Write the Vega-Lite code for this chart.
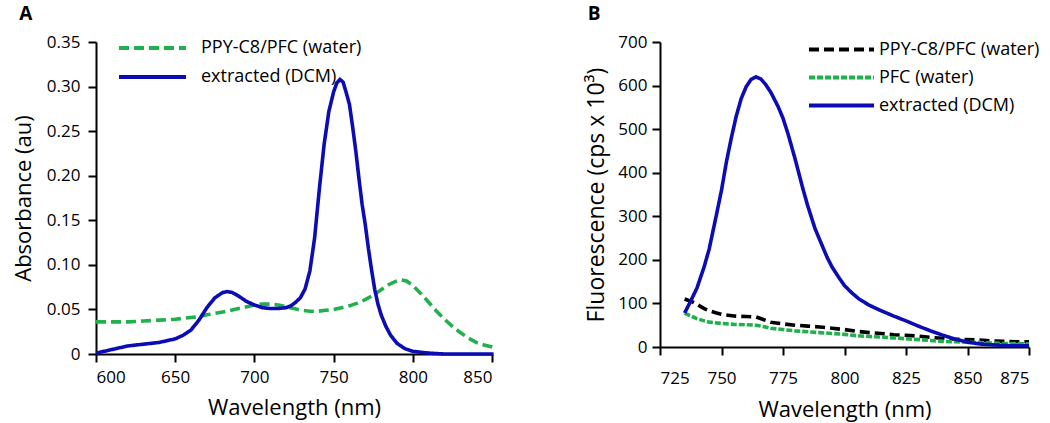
{
  "$schema": "https://vega.github.io/schema/vega-lite/v6.json",
  "background": "white",
  "padding": {"left": 12, "top": 5, "right": 5, "bottom": 5},
  "config": {
    "font": "Open Sans",
    "view": {"stroke": null},
    "axis": {"domainColor": "black", "domainWidth": 2, "tickColor": "black", "tickWidth": 2, "tickSize": 8, "labelColor": "black", "labelFontSize": 17, "titleColor": "black", "titleFontSize": 22, "titleFontWeight": "normal", "grid": false, "labelFont": "Open Sans", "titleFont": "Open Sans"},
    "title": {"fontSize": 19, "fontWeight": "bold", "anchor": "start", "color": "black", "frame": "bounds", "font": "Open Sans"},
    "concat": {"spacing": 81}
  },
  "resolve": {"scale": {"color": "independent", "strokeDash": "independent"}, "legend": {"color": "independent", "strokeDash": "independent"}},
  "datasets": {
    "A": [
      {"wl": 600, "val": 0.036, "series": "PPY-C8/PFC (water)"},
      {"wl": 610, "val": 0.036, "series": "PPY-C8/PFC (water)"},
      {"wl": 620, "val": 0.036, "series": "PPY-C8/PFC (water)"},
      {"wl": 630, "val": 0.037, "series": "PPY-C8/PFC (water)"},
      {"wl": 640, "val": 0.038, "series": "PPY-C8/PFC (water)"},
      {"wl": 650, "val": 0.039, "series": "PPY-C8/PFC (water)"},
      {"wl": 660, "val": 0.041, "series": "PPY-C8/PFC (water)"},
      {"wl": 665, "val": 0.042, "series": "PPY-C8/PFC (water)"},
      {"wl": 670, "val": 0.044, "series": "PPY-C8/PFC (water)"},
      {"wl": 680, "val": 0.047, "series": "PPY-C8/PFC (water)"},
      {"wl": 690, "val": 0.051, "series": "PPY-C8/PFC (water)"},
      {"wl": 700, "val": 0.055, "series": "PPY-C8/PFC (water)"},
      {"wl": 705, "val": 0.056, "series": "PPY-C8/PFC (water)"},
      {"wl": 710, "val": 0.056, "series": "PPY-C8/PFC (water)"},
      {"wl": 715, "val": 0.055, "series": "PPY-C8/PFC (water)"},
      {"wl": 720, "val": 0.053, "series": "PPY-C8/PFC (water)"},
      {"wl": 725, "val": 0.051, "series": "PPY-C8/PFC (water)"},
      {"wl": 730, "val": 0.049, "series": "PPY-C8/PFC (water)"},
      {"wl": 735, "val": 0.048, "series": "PPY-C8/PFC (water)"},
      {"wl": 740, "val": 0.048, "series": "PPY-C8/PFC (water)"},
      {"wl": 745, "val": 0.049, "series": "PPY-C8/PFC (water)"},
      {"wl": 750, "val": 0.050, "series": "PPY-C8/PFC (water)"},
      {"wl": 755, "val": 0.052, "series": "PPY-C8/PFC (water)"},
      {"wl": 760, "val": 0.054, "series": "PPY-C8/PFC (water)"},
      {"wl": 765, "val": 0.057, "series": "PPY-C8/PFC (water)"},
      {"wl": 770, "val": 0.061, "series": "PPY-C8/PFC (water)"},
      {"wl": 775, "val": 0.066, "series": "PPY-C8/PFC (water)"},
      {"wl": 780, "val": 0.072, "series": "PPY-C8/PFC (water)"},
      {"wl": 785, "val": 0.078, "series": "PPY-C8/PFC (water)"},
      {"wl": 790, "val": 0.082, "series": "PPY-C8/PFC (water)"},
      {"wl": 793, "val": 0.083, "series": "PPY-C8/PFC (water)"},
      {"wl": 796, "val": 0.082, "series": "PPY-C8/PFC (water)"},
      {"wl": 800, "val": 0.077, "series": "PPY-C8/PFC (water)"},
      {"wl": 805, "val": 0.068, "series": "PPY-C8/PFC (water)"},
      {"wl": 810, "val": 0.058, "series": "PPY-C8/PFC (water)"},
      {"wl": 815, "val": 0.048, "series": "PPY-C8/PFC (water)"},
      {"wl": 820, "val": 0.039, "series": "PPY-C8/PFC (water)"},
      {"wl": 825, "val": 0.031, "series": "PPY-C8/PFC (water)"},
      {"wl": 830, "val": 0.024, "series": "PPY-C8/PFC (water)"},
      {"wl": 835, "val": 0.018, "series": "PPY-C8/PFC (water)"},
      {"wl": 840, "val": 0.013, "series": "PPY-C8/PFC (water)"},
      {"wl": 845, "val": 0.010, "series": "PPY-C8/PFC (water)"},
      {"wl": 850, "val": 0.008, "series": "PPY-C8/PFC (water)"},
      {"wl": 853, "val": 0.006, "series": "PPY-C8/PFC (water)"},
      {"wl": 600, "val": 0.001, "series": "extracted (DCM)"},
      {"wl": 605, "val": 0.003, "series": "extracted (DCM)"},
      {"wl": 610, "val": 0.005, "series": "extracted (DCM)"},
      {"wl": 615, "val": 0.007, "series": "extracted (DCM)"},
      {"wl": 620, "val": 0.009, "series": "extracted (DCM)"},
      {"wl": 625, "val": 0.010, "series": "extracted (DCM)"},
      {"wl": 630, "val": 0.011, "series": "extracted (DCM)"},
      {"wl": 640, "val": 0.013, "series": "extracted (DCM)"},
      {"wl": 650, "val": 0.017, "series": "extracted (DCM)"},
      {"wl": 655, "val": 0.021, "series": "extracted (DCM)"},
      {"wl": 660, "val": 0.027, "series": "extracted (DCM)"},
      {"wl": 665, "val": 0.038, "series": "extracted (DCM)"},
      {"wl": 670, "val": 0.052, "series": "extracted (DCM)"},
      {"wl": 675, "val": 0.063, "series": "extracted (DCM)"},
      {"wl": 680, "val": 0.069, "series": "extracted (DCM)"},
      {"wl": 683, "val": 0.070, "series": "extracted (DCM)"},
      {"wl": 686, "val": 0.069, "series": "extracted (DCM)"},
      {"wl": 690, "val": 0.065, "series": "extracted (DCM)"},
      {"wl": 695, "val": 0.059, "series": "extracted (DCM)"},
      {"wl": 700, "val": 0.055, "series": "extracted (DCM)"},
      {"wl": 705, "val": 0.052, "series": "extracted (DCM)"},
      {"wl": 710, "val": 0.051, "series": "extracted (DCM)"},
      {"wl": 715, "val": 0.051, "series": "extracted (DCM)"},
      {"wl": 720, "val": 0.052, "series": "extracted (DCM)"},
      {"wl": 723, "val": 0.054, "series": "extracted (DCM)"},
      {"wl": 726, "val": 0.058, "series": "extracted (DCM)"},
      {"wl": 729, "val": 0.063, "series": "extracted (DCM)"},
      {"wl": 732, "val": 0.073, "series": "extracted (DCM)"},
      {"wl": 735, "val": 0.093, "series": "extracted (DCM)"},
      {"wl": 738, "val": 0.130, "series": "extracted (DCM)"},
      {"wl": 741, "val": 0.185, "series": "extracted (DCM)"},
      {"wl": 744, "val": 0.235, "series": "extracted (DCM)"},
      {"wl": 747, "val": 0.272, "series": "extracted (DCM)"},
      {"wl": 750, "val": 0.294, "series": "extracted (DCM)"},
      {"wl": 752, "val": 0.304, "series": "extracted (DCM)"},
      {"wl": 754, "val": 0.308, "series": "extracted (DCM)"},
      {"wl": 756, "val": 0.305, "series": "extracted (DCM)"},
      {"wl": 758, "val": 0.293, "series": "extracted (DCM)"},
      {"wl": 760, "val": 0.280, "series": "extracted (DCM)"},
      {"wl": 762, "val": 0.255, "series": "extracted (DCM)"},
      {"wl": 764, "val": 0.228, "series": "extracted (DCM)"},
      {"wl": 766, "val": 0.197, "series": "extracted (DCM)"},
      {"wl": 768, "val": 0.168, "series": "extracted (DCM)"},
      {"wl": 770, "val": 0.145, "series": "extracted (DCM)"},
      {"wl": 772, "val": 0.118, "series": "extracted (DCM)"},
      {"wl": 774, "val": 0.094, "series": "extracted (DCM)"},
      {"wl": 776, "val": 0.072, "series": "extracted (DCM)"},
      {"wl": 778, "val": 0.056, "series": "extracted (DCM)"},
      {"wl": 780, "val": 0.044, "series": "extracted (DCM)"},
      {"wl": 783, "val": 0.031, "series": "extracted (DCM)"},
      {"wl": 786, "val": 0.021, "series": "extracted (DCM)"},
      {"wl": 790, "val": 0.012, "series": "extracted (DCM)"},
      {"wl": 795, "val": 0.006, "series": "extracted (DCM)"},
      {"wl": 800, "val": 0.003, "series": "extracted (DCM)"},
      {"wl": 810, "val": 0.001, "series": "extracted (DCM)"},
      {"wl": 820, "val": 0.0, "series": "extracted (DCM)"},
      {"wl": 851, "val": 0.0, "series": "extracted (DCM)"}
    ],
    "B": [
      {"wl": 735, "val": 110, "series": "PPY-C8/PFC (water)"},
      {"wl": 738, "val": 104, "series": "PPY-C8/PFC (water)"},
      {"wl": 740, "val": 98, "series": "PPY-C8/PFC (water)"},
      {"wl": 743, "val": 88, "series": "PPY-C8/PFC (water)"},
      {"wl": 745, "val": 83, "series": "PPY-C8/PFC (water)"},
      {"wl": 748, "val": 78, "series": "PPY-C8/PFC (water)"},
      {"wl": 750, "val": 75, "series": "PPY-C8/PFC (water)"},
      {"wl": 755, "val": 71, "series": "PPY-C8/PFC (water)"},
      {"wl": 760, "val": 70, "series": "PPY-C8/PFC (water)"},
      {"wl": 764, "val": 69, "series": "PPY-C8/PFC (water)"},
      {"wl": 767, "val": 63, "series": "PPY-C8/PFC (water)"},
      {"wl": 770, "val": 57, "series": "PPY-C8/PFC (water)"},
      {"wl": 775, "val": 53, "series": "PPY-C8/PFC (water)"},
      {"wl": 780, "val": 50, "series": "PPY-C8/PFC (water)"},
      {"wl": 785, "val": 48, "series": "PPY-C8/PFC (water)"},
      {"wl": 790, "val": 46, "series": "PPY-C8/PFC (water)"},
      {"wl": 795, "val": 43, "series": "PPY-C8/PFC (water)"},
      {"wl": 800, "val": 40, "series": "PPY-C8/PFC (water)"},
      {"wl": 805, "val": 36, "series": "PPY-C8/PFC (water)"},
      {"wl": 810, "val": 33, "series": "PPY-C8/PFC (water)"},
      {"wl": 815, "val": 31, "series": "PPY-C8/PFC (water)"},
      {"wl": 820, "val": 28, "series": "PPY-C8/PFC (water)"},
      {"wl": 825, "val": 27, "series": "PPY-C8/PFC (water)"},
      {"wl": 830, "val": 25, "series": "PPY-C8/PFC (water)"},
      {"wl": 835, "val": 22, "series": "PPY-C8/PFC (water)"},
      {"wl": 840, "val": 20, "series": "PPY-C8/PFC (water)"},
      {"wl": 845, "val": 18, "series": "PPY-C8/PFC (water)"},
      {"wl": 850, "val": 17, "series": "PPY-C8/PFC (water)"},
      {"wl": 855, "val": 16, "series": "PPY-C8/PFC (water)"},
      {"wl": 860, "val": 14, "series": "PPY-C8/PFC (water)"},
      {"wl": 865, "val": 13, "series": "PPY-C8/PFC (water)"},
      {"wl": 870, "val": 12, "series": "PPY-C8/PFC (water)"},
      {"wl": 875, "val": 12, "series": "PPY-C8/PFC (water)"},
      {"wl": 735, "val": 78, "series": "PFC (water)"},
      {"wl": 738, "val": 70, "series": "PFC (water)"},
      {"wl": 740, "val": 65, "series": "PFC (water)"},
      {"wl": 743, "val": 60, "series": "PFC (water)"},
      {"wl": 745, "val": 57, "series": "PFC (water)"},
      {"wl": 750, "val": 54, "series": "PFC (water)"},
      {"wl": 755, "val": 52, "series": "PFC (water)"},
      {"wl": 760, "val": 51, "series": "PFC (water)"},
      {"wl": 764, "val": 50, "series": "PFC (water)"},
      {"wl": 767, "val": 47, "series": "PFC (water)"},
      {"wl": 770, "val": 43, "series": "PFC (water)"},
      {"wl": 775, "val": 40, "series": "PFC (water)"},
      {"wl": 780, "val": 37, "series": "PFC (water)"},
      {"wl": 785, "val": 35, "series": "PFC (water)"},
      {"wl": 790, "val": 33, "series": "PFC (water)"},
      {"wl": 795, "val": 31, "series": "PFC (water)"},
      {"wl": 800, "val": 29, "series": "PFC (water)"},
      {"wl": 805, "val": 26, "series": "PFC (water)"},
      {"wl": 810, "val": 24, "series": "PFC (water)"},
      {"wl": 815, "val": 23, "series": "PFC (water)"},
      {"wl": 820, "val": 21, "series": "PFC (water)"},
      {"wl": 825, "val": 19, "series": "PFC (water)"},
      {"wl": 830, "val": 17, "series": "PFC (water)"},
      {"wl": 835, "val": 15, "series": "PFC (water)"},
      {"wl": 840, "val": 13, "series": "PFC (water)"},
      {"wl": 845, "val": 12, "series": "PFC (water)"},
      {"wl": 850, "val": 11, "series": "PFC (water)"},
      {"wl": 855, "val": 10, "series": "PFC (water)"},
      {"wl": 860, "val": 9, "series": "PFC (water)"},
      {"wl": 865, "val": 8, "series": "PFC (water)"},
      {"wl": 870, "val": 8, "series": "PFC (water)"},
      {"wl": 875, "val": 7, "series": "PFC (water)"},
      {"wl": 735, "val": 78, "series": "extracted (DCM)"},
      {"wl": 737, "val": 100, "series": "extracted (DCM)"},
      {"wl": 740, "val": 135, "series": "extracted (DCM)"},
      {"wl": 743, "val": 185, "series": "extracted (DCM)"},
      {"wl": 745, "val": 225, "series": "extracted (DCM)"},
      {"wl": 748, "val": 305, "series": "extracted (DCM)"},
      {"wl": 750, "val": 360, "series": "extracted (DCM)"},
      {"wl": 752, "val": 425, "series": "extracted (DCM)"},
      {"wl": 754, "val": 480, "series": "extracted (DCM)"},
      {"wl": 756, "val": 530, "series": "extracted (DCM)"},
      {"wl": 758, "val": 570, "series": "extracted (DCM)"},
      {"wl": 760, "val": 597, "series": "extracted (DCM)"},
      {"wl": 762, "val": 614, "series": "extracted (DCM)"},
      {"wl": 764, "val": 620, "series": "extracted (DCM)"},
      {"wl": 766, "val": 615, "series": "extracted (DCM)"},
      {"wl": 768, "val": 602, "series": "extracted (DCM)"},
      {"wl": 770, "val": 585, "series": "extracted (DCM)"},
      {"wl": 773, "val": 552, "series": "extracted (DCM)"},
      {"wl": 775, "val": 525, "series": "extracted (DCM)"},
      {"wl": 777, "val": 490, "series": "extracted (DCM)"},
      {"wl": 780, "val": 430, "series": "extracted (DCM)"},
      {"wl": 783, "val": 365, "series": "extracted (DCM)"},
      {"wl": 785, "val": 325, "series": "extracted (DCM)"},
      {"wl": 788, "val": 272, "series": "extracted (DCM)"},
      {"wl": 790, "val": 245, "series": "extracted (DCM)"},
      {"wl": 793, "val": 205, "series": "extracted (DCM)"},
      {"wl": 795, "val": 183, "series": "extracted (DCM)"},
      {"wl": 798, "val": 157, "series": "extracted (DCM)"},
      {"wl": 800, "val": 141, "series": "extracted (DCM)"},
      {"wl": 803, "val": 124, "series": "extracted (DCM)"},
      {"wl": 806, "val": 110, "series": "extracted (DCM)"},
      {"wl": 810, "val": 96, "series": "extracted (DCM)"},
      {"wl": 815, "val": 83, "series": "extracted (DCM)"},
      {"wl": 820, "val": 71, "series": "extracted (DCM)"},
      {"wl": 825, "val": 60, "series": "extracted (DCM)"},
      {"wl": 830, "val": 48, "series": "extracted (DCM)"},
      {"wl": 835, "val": 37, "series": "extracted (DCM)"},
      {"wl": 840, "val": 27, "series": "extracted (DCM)"},
      {"wl": 845, "val": 18, "series": "extracted (DCM)"},
      {"wl": 850, "val": 11, "series": "extracted (DCM)"},
      {"wl": 855, "val": 7, "series": "extracted (DCM)"},
      {"wl": 860, "val": 5, "series": "extracted (DCM)"},
      {"wl": 867, "val": 3, "series": "extracted (DCM)"},
      {"wl": 875, "val": 3, "series": "extracted (DCM)"}
    ]
  },
  "hconcat": [
    {
      "width": 396,
      "height": 312,
      "title": {"text": "A", "dx": 7, "offset": 9},
      "data": {"name": "A"},
      "mark": {"type": "line", "strokeWidth": 3.6, "clip": false},
      "encoding": {
        "x": {"field": "wl", "type": "quantitative", "scale": {"domain": [600, 850], "nice": false, "zero": false},
          "axis": {"values": [600, 650, 700, 750, 800, 850], "title": "Wavelength (nm)", "labelPadding": 7, "titlePadding": 12}},
        "y": {"field": "val", "type": "quantitative", "scale": {"domain": [0, 0.35], "nice": false},
          "axis": {"values": [0, 0.05, 0.1, 0.15, 0.2, 0.25, 0.3, 0.35], "labelExpr": "datum.value == 0 ? '0' : format(datum.value, '.2f')", "title": "Absorbance (au)", "labelPadding": 8, "titlePadding": 11}},
        "color": {"field": "series", "type": "nominal",
          "scale": {"domain": ["PPY-C8/PFC (water)", "extracted (DCM)"], "range": ["#21b04b", "#0c0cb4"]},
          "legend": {"title": null, "orient": "none", "legendX": 21, "legendY": -8.5, "symbolType": "stroke", "symbolSize": 4489, "symbolStrokeWidth": 4, "clipHeight": 29, "rowPadding": 0, "labelFontSize": 18, "labelOffset": 13, "labelLimit": 400, "labelColor": "black", "symbolOffset": 0, "padding": 0}},
        "strokeDash": {"field": "series", "type": "nominal",
          "scale": {"domain": ["PPY-C8/PFC (water)", "extracted (DCM)"], "range": [[10, 5], [1, 0]]},
          "legend": {"title": null, "orient": "none", "legendX": 21, "legendY": -8.5, "symbolType": "stroke", "symbolSize": 4489, "symbolStrokeWidth": 4, "clipHeight": 29, "rowPadding": 0, "labelFontSize": 18, "labelOffset": 13, "labelLimit": 400, "labelColor": "black", "symbolOffset": 0, "padding": 0}}
      }
    },
    {
      "width": 369,
      "height": 305,
      "title": {"text": "B", "dx": 2, "offset": 9},
      "data": {"name": "B"},
      "mark": {"type": "line", "strokeWidth": 3.6, "clip": false},
      "encoding": {
        "x": {"field": "wl", "type": "quantitative", "scale": {"domain": [725, 875], "nice": false, "zero": false},
          "axis": {"values": [725, 750, 775, 800, 825, 850, 875], "title": "Wavelength (nm)", "labelPadding": 15, "titlePadding": 13}},
        "y": {"field": "val", "type": "quantitative", "scale": {"domain": [0, 700], "nice": false},
          "axis": {"values": [0, 100, 200, 300, 400, 500, 600, 700], "title": "Fluorescence (cps x 10³)", "titleFontSize": 23, "labelPadding": 5, "titlePadding": 9}},
        "color": {"field": "series", "type": "nominal",
          "scale": {"domain": ["PPY-C8/PFC (water)", "PFC (water)", "extracted (DCM)"], "range": ["#000000", "#21b04b", "#0c0cb4"]},
          "legend": {"title": null, "orient": "none", "legendX": 147, "legendY": -6, "symbolType": "stroke", "symbolSize": 4225, "symbolStrokeWidth": 4, "clipHeight": 27, "rowPadding": 1, "labelFontSize": 18, "labelOffset": 3, "labelLimit": 400, "labelColor": "black", "symbolOffset": 0, "padding": 0}},
        "strokeDash": {"field": "series", "type": "nominal",
          "scale": {"domain": ["PPY-C8/PFC (water)", "PFC (water)", "extracted (DCM)"], "range": [[10, 5], [6, 2], [1, 0]]},
          "legend": {"title": null, "orient": "none", "legendX": 147, "legendY": -6, "symbolType": "stroke", "symbolSize": 4225, "symbolStrokeWidth": 4, "clipHeight": 27, "rowPadding": 1, "labelFontSize": 18, "labelOffset": 3, "labelLimit": 400, "labelColor": "black", "symbolOffset": 0, "padding": 0}}
      }
    }
  ]
}
